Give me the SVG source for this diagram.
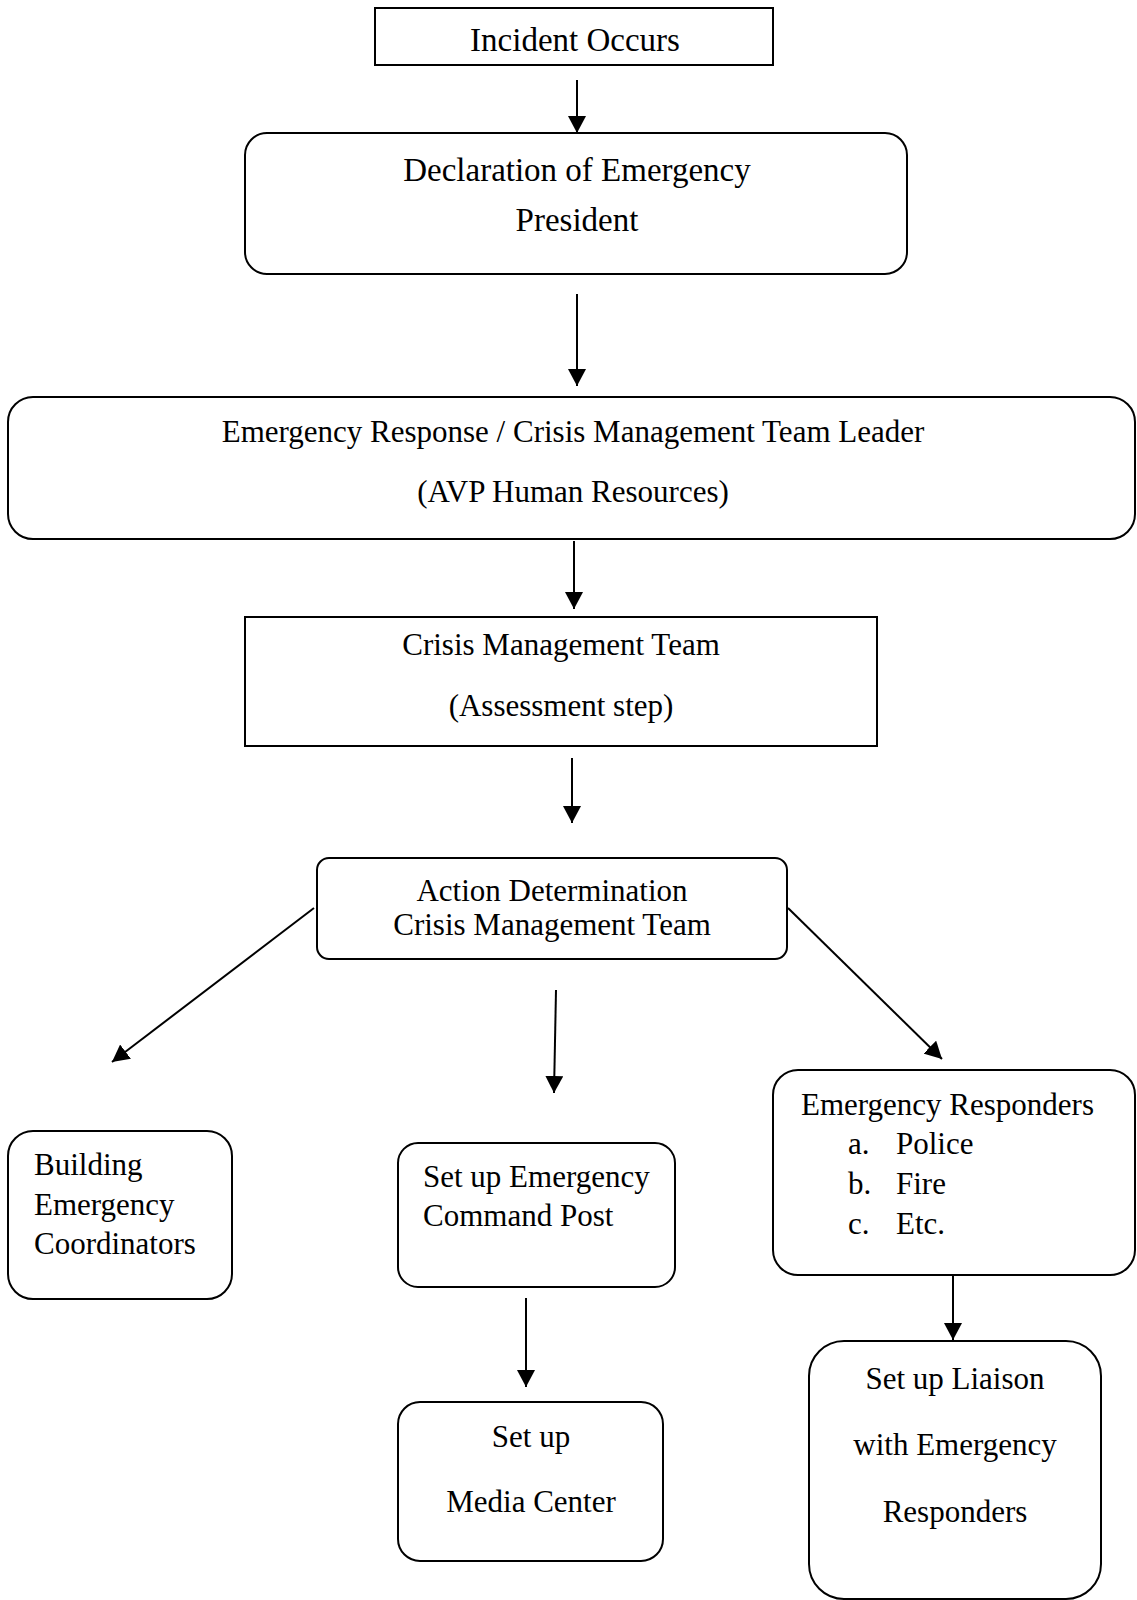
<svg xmlns="http://www.w3.org/2000/svg" width="1137" height="1600" viewBox="0 0 1137 1600">
<style>
.box{fill:#fff;stroke:#000;stroke-width:2}
.t{font-family:"Liberation Serif","Times New Roman",serif;font-size:31px;fill:#000}
.big{font-size:33px}
.c{text-anchor:middle}
.con{stroke:#000;stroke-width:2;fill:none;marker-end:url(#ah)}
</style>
<defs>
<marker id="ah" markerUnits="userSpaceOnUse" viewBox="0 0 17 18" markerWidth="17" markerHeight="18" refX="17" refY="9" orient="auto">
<path d="M0,0 L17,9 L0,18 z" fill="#000"/>
</marker>
</defs>
<g id="connectors">
<line class="con" x1="577" y1="80" x2="577" y2="133"/>
<line class="con" x1="577" y1="294" x2="577" y2="386"/>
<line class="con" x1="574" y1="541" x2="574" y2="609"/>
<line class="con" x1="572" y1="758" x2="572" y2="823"/>
<line class="con" x1="314" y1="908" x2="112" y2="1062"/>
<line class="con" x1="556" y1="990" x2="554" y2="1093"/>
<line class="con" x1="788" y1="908" x2="942" y2="1059"/>
<line class="con" x1="526" y1="1298" x2="526" y2="1387"/>
<line class="con" x1="953" y1="1275" x2="953" y2="1340"/>
</g>
<g id="incident">
<rect class="box" x="375" y="8" width="398" height="57"/>
<text class="t big c" x="575" y="51">Incident Occurs</text>
</g>
<g id="declaration">
<rect class="box" x="245" y="133" width="662" height="141" rx="22"/>
<text class="t big c" x="577" y="181">Declaration of Emergency</text>
<text class="t big c" x="577" y="231">President</text>
</g>
<g id="team-leader">
<rect class="box" x="8" y="397" width="1127" height="142" rx="25"/>
<text class="t c" x="573" y="442">Emergency Response / Crisis Management Team Leader</text>
<text class="t c" x="573" y="502">(AVP Human Resources)</text>
</g>
<g id="cmt">
<rect class="box" x="245" y="617" width="632" height="129"/>
<text class="t c" x="561" y="655">Crisis Management Team</text>
<text class="t c" x="561" y="716">(Assessment step)</text>
</g>
<g id="action">
<rect class="box" x="317" y="858" width="470" height="101" rx="12"/>
<text class="t c" x="552" y="901">Action Determination</text>
<text class="t c" x="552" y="935">Crisis Management Team</text>
</g>
<g id="building">
<rect class="box" x="8" y="1131" width="224" height="168" rx="25"/>
<text class="t" x="34" y="1175">Building</text>
<text class="t" x="34" y="1215">Emergency</text>
<text class="t" x="34" y="1254">Coordinators</text>
</g>
<g id="command-post">
<rect class="box" x="398" y="1143" width="277" height="144" rx="20"/>
<text class="t" x="423" y="1187">Set up Emergency</text>
<text class="t" x="423" y="1226">Command Post</text>
</g>
<g id="media">
<rect class="box" x="398" y="1402" width="265" height="159" rx="22"/>
<text class="t c" x="531" y="1447">Set up</text>
<text class="t c" x="531" y="1512">Media Center</text>
</g>
<g id="responders">
<rect class="box" x="773" y="1070" width="362" height="205" rx="25"/>
<text class="t" x="801" y="1115">Emergency Responders</text>
<text class="t" x="848" y="1154">a.</text><text class="t" x="896" y="1154">Police</text>
<text class="t" x="848" y="1194">b.</text><text class="t" x="896" y="1194">Fire</text>
<text class="t" x="848" y="1234">c.</text><text class="t" x="896" y="1234">Etc.</text>
</g>
<g id="liaison">
<rect class="box" x="809" y="1341" width="292" height="258" rx="35"/>
<text class="t c" x="955" y="1389">Set up Liaison</text>
<text class="t c" x="955" y="1455">with Emergency</text>
<text class="t c" x="955" y="1522">Responders</text>
</g>
</svg>
